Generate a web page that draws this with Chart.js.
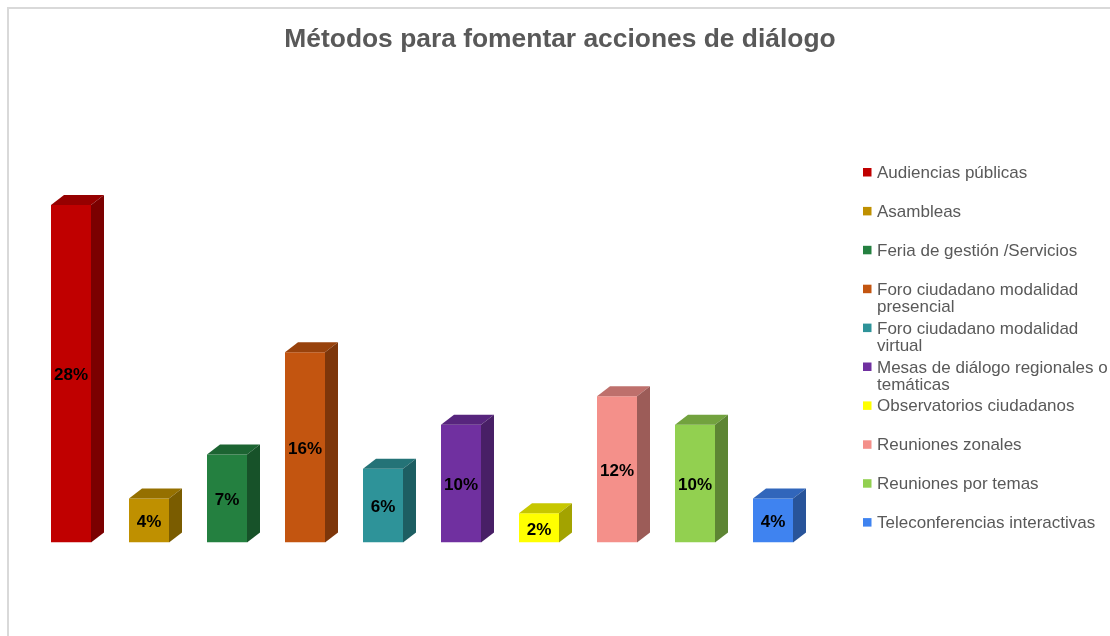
<!DOCTYPE html>
<html>
<head>
<meta charset="utf-8">
<script src="https://cdn.jsdelivr.net/npm/chart.js@4/dist/chart.umd.min.js"></script>
<style>
  html, body { margin: 0; padding: 0; background: #fff; }
  #wrap { width: 1110px; height: 636px; }
</style>
</head>
<body>
<div id="wrap"><canvas id="myChart" width="1110" height="636"></canvas></div>
<script>
// chart data
var title = 'Métodos para fomentar acciones de diálogo';
var categories = [
	'Audiencias públicas',
	'Asambleas',
	'Feria de gestión /Servicios',
	'Foro ciudadano modalidad presencial',
	'Foro ciudadano modalidad virtual',
	'Mesas de diálogo regionales o temáticas',
	'Observatorios ciudadanos',
	'Reuniones zonales',
	'Reuniones por temas',
	'Teleconferencias interactivas'
];
var percentages = [28.4, 3.7, 7.4, 16.0, 6.2, 9.9, 2.47, 12.3, 9.9, 3.7];
var colors = ['#c00000', '#bf9000', '#248040', '#c35510', '#2e9399', '#7030a0', '#ffff00', '#f4908a', '#92d050', '#3f83f0'];

function shade(hex, f) {
	var n = parseInt(hex.slice(1), 16);
	var r = Math.round(((n >> 16) & 255) * f);
	var g = Math.round(((n >> 8) & 255) * f);
	var b = Math.round((n & 255) * f);
	return `rgb(${r}, ${g}, ${b})`;
}

function wrapText(ctx, text, maxWidth) {
	var words = text.split(' ');
	var lines = [];
	var line = '';
	for (var i = 0; i < words.length; i++) {
		var test = line ? line + ' ' + words[i] : words[i];
		if (line && ctx.measureText(test).width > maxWidth) {
			lines.push(line);
			line = words[i];
		} else {
			line = test;
		}
	}
	lines.push(line);
	return lines;
}

// draws the depth faces, value labels, frame, title and legend
var decorations = {
	id: 'decorations',
	beforeDraw: function (chart) {
		var ctx = chart.ctx;
		ctx.save();
		ctx.strokeStyle = '#d9d9d9';
		ctx.lineWidth = 2;
		ctx.beginPath();
		ctx.moveTo(8, 640);
		ctx.lineTo(8, 8);
		ctx.lineTo(1115, 8);
		ctx.stroke();
		ctx.restore();
	},
	afterDatasetsDraw: function (chart) {
		var ctx = chart.ctx;
		var meta = chart.getDatasetMeta(0);
		var dx = 13, dy = 10;
		ctx.save();
		meta.data.forEach(function (bar, i) {
			var left = bar.x - bar.width / 2;
			var right = bar.x + bar.width / 2;
			var top = bar.y, base = bar.base;
			var c = colors[i];

			// top face
			ctx.fillStyle = shade(c, 0.78);
			ctx.beginPath();
			ctx.moveTo(left, top);
			ctx.lineTo(left + dx, top - dy);
			ctx.lineTo(right + dx, top - dy);
			ctx.lineTo(right, top);
			ctx.closePath();
			ctx.fill();

			// side face
			ctx.fillStyle = shade(c, 0.64);
			ctx.beginPath();
			ctx.moveTo(right, top);
			ctx.lineTo(right + dx, top - dy);
			ctx.lineTo(right + dx, base - dy);
			ctx.lineTo(right, base);
			ctx.closePath();
			ctx.fill();

			// value label
			ctx.fillStyle = '#000';
			ctx.font = 'bold 17px "Liberation Sans", Arial, sans-serif';
			ctx.textAlign = 'center';
			ctx.textBaseline = 'middle';
			ctx.fillText(Math.round(percentages[i]) + '%', bar.x, (top + base) / 2 + 2);
		});
		ctx.restore();
	},
	afterDraw: function (chart) {
		var ctx = chart.ctx;
		ctx.save();

		ctx.fillStyle = '#595959';
		ctx.font = 'bold 26.4px "Liberation Sans", Arial, sans-serif';
		ctx.textAlign = 'center';
		ctx.textBaseline = 'alphabetic';
		ctx.fillText(title, 560, 47);

		ctx.font = '17px "Liberation Sans", Arial, sans-serif';
		ctx.textAlign = 'left';
		var step = 38.9;
		for (var i = 0; i < categories.length; i++) {
			var cy = 172 + i * step;
			ctx.fillStyle = colors[i];
			ctx.fillRect(863, cy - 4, 8.5, 8.5);
			ctx.fillStyle = '#595959';
			var lines = wrapText(ctx, categories[i], 240);
			for (var j = 0; j < lines.length; j++) {
				ctx.fillText(lines[j], 877, cy + 6 + j * 17.5);
			}
		}
		ctx.restore();
	}
};

var ctx = document.getElementById('myChart').getContext('2d');
new Chart(ctx, {
	type: 'bar',
	data: {
		labels: categories,
		datasets: [{
			label: title,
			data: percentages,
			backgroundColor: colors,
			borderWidth: 0,
			categoryPercentage: 1,
			barPercentage: 40 / 78
		}]
	},
	options: {
		responsive: false,
		animation: false,
		devicePixelRatio: 1,
		layout: {
			padding: { left: 32, right: 298, top: 186, bottom: 93.5 }
		},
		scales: {
			x: { display: false },
			y: { display: false, min: 0, max: 30 }
		},
		plugins: {
			legend: { display: false },
			title: { display: false },
			tooltip: { enabled: false }
		}
	},
	plugins: [decorations]
});
</script>
</body>
</html>
